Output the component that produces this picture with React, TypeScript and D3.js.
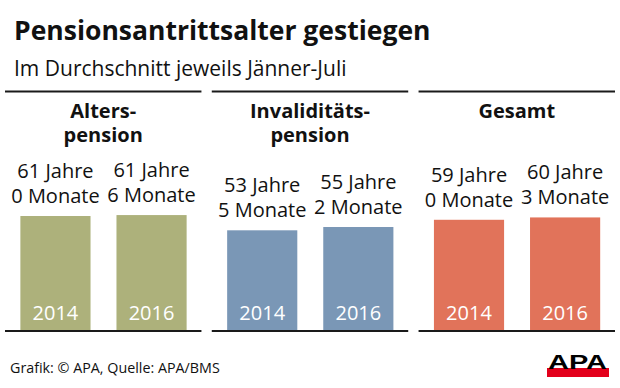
import React from 'react'
import * as d3 from 'd3'

const panelTitles = [['Alters-', 'pension'], ['Invaliditäts-', 'pension'], ['Gesamt']]
const years = ['2014', '2016']
const ageYears = [
  [61, 61],
  [53, 55],
  [59, 60],
]
const ageMonths = [
  [0, 6],
  [5, 2],
  [0, 3],
]
const colors = ['#adb17b', '#7a97b6', '#e1735a']

const W = 620
const H = 388
const font = '"Open Sans", sans-serif'

const App = () => {
  const baseY = 331
  const panelW = 197
  const panelX = d3.scaleBand().domain(['0', '1', '2']).range([5, 615]).paddingInner(0.05)

  const x = d3.scaleBand().domain(years).range([0, panelW]).paddingInner(0.27).paddingOuter(0.16)
  const y = d3.scaleLinear().domain([0, 60]).range([baseY, baseY - 113.1])

  return (
    <svg
      width={W}
      height={H}
      style={{ position: 'absolute', left: 0, top: 0, background: '#fff' }}
      fontFamily={font}
    >
      <text x={14} y={40} fontSize={26.5} fontWeight={700} fill='#111'>
        Pensionsantrittsalter gestiegen
      </text>
      <text x={14} y={76} fontSize={21} fill='#111'>
        Im Durchschnitt jeweils Jänner-Juli
      </text>

      {panelTitles.map((lines, i) => {
        const px = panelX(String(i))
        const pw = panelX.bandwidth()
        return (
          <g key={i} transform={`translate(${px},0)`}>
            <line x1={0} x2={pw} y1={91.5} y2={91.5} stroke='#1a1a1a' strokeWidth={2} />
            {lines.map((t, j) => (
              <text
                key={t}
                x={pw / 2}
                y={118 + j * 24}
                textAnchor='middle'
                fontSize={20}
                fontWeight={700}
                fill='#111'
              >
                {t}
              </text>
            ))}
            {years.map((yr, k) => {
              const v = ageYears[i][k] + ageMonths[i][k] / 12
              const bx = x(yr)
              const top = y(v)
              const cx = bx + x.bandwidth() / 2
              return (
                <g key={yr}>
                  <rect x={bx} y={top} width={x.bandwidth()} height={baseY - top} fill={colors[i]} />
                  <text x={cx} y={top - 38} textAnchor='middle' fontSize={20} fill='#111'>
                    {`${ageYears[i][k]} Jahre`}
                  </text>
                  <text x={cx} y={top - 13} textAnchor='middle' fontSize={20} fill='#111'>
                    {`${ageMonths[i][k]} Monate`}
                  </text>
                  <text x={cx} y={320} textAnchor='middle' fontSize={20} fill='#fff'>
                    {yr}
                  </text>
                </g>
              )
            })}
            <line x1={0} x2={pw} y1={baseY} y2={baseY} stroke='#1a1a1a' strokeWidth={2} />
          </g>
        )
      })}

      <text x={10} y={373} fontSize={14.3} fill='#111'>
        Grafik: © APA, Quelle: APA/BMS
      </text>
      <g>
        <rect x={547} y={368} width={62} height={9} fill='#e3001b' />
        <text
          x={548}
          y={369}
          fontFamily='"Liberation Sans", Arial, sans-serif'
          fontSize={21}
          fontWeight={700}
          fill='#000'
          textLength={59}
          lengthAdjust='spacingAndGlyphs'
        >
          APA
        </text>
      </g>
    </svg>
  )
}

export default App
